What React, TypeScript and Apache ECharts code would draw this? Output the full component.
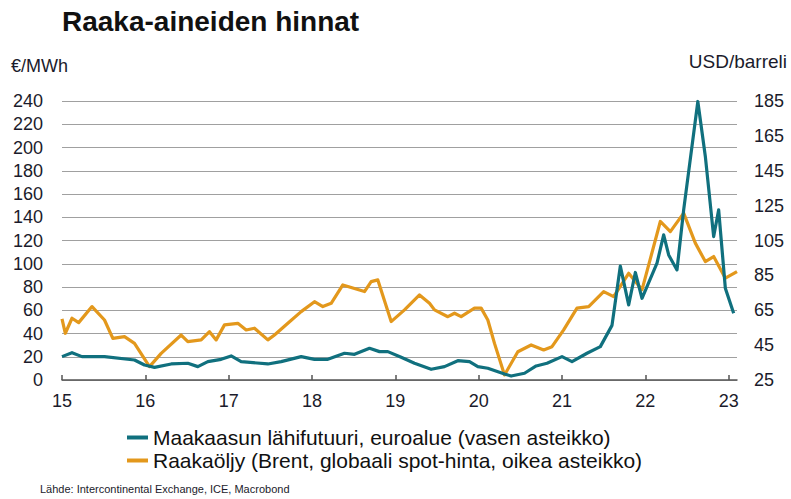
import React, { useEffect, useRef } from "react";
import * as echarts from "echarts";

const gasDates = [2015.0, 2015.12, 2015.24, 2015.51, 2015.87, 2015.99, 2016.11, 2016.31, 2016.51, 2016.63, 2016.75, 2016.91, 2017.03, 2017.15, 2017.47, 2017.63, 2017.87, 2018.03, 2018.19, 2018.39, 2018.51, 2018.69, 2018.81, 2018.91, 2019.07, 2019.23, 2019.43, 2019.59, 2019.75, 2019.89, 2019.99, 2020.11, 2020.31, 2020.39, 2020.55, 2020.69, 2020.82, 2021.0, 2021.12, 2021.3, 2021.46, 2021.6, 2021.7, 2021.8, 2021.88, 2021.96, 2022.14, 2022.22, 2022.28, 2022.38, 2022.46, 2022.63, 2022.72, 2022.82, 2022.88, 2022.96, 2023.06];
const gasValues = [20.1, 23.5, 20.1, 20.1, 17.2, 12.9, 10.9, 13.8, 14.4, 11.5, 15.8, 17.8, 20.7, 15.8, 13.8, 15.8, 20.1, 17.8, 17.8, 23, 22.1, 27.3, 24.4, 24.4, 19.5, 14.4, 9.2, 11.5, 16.6, 15.8, 11.5, 10.1, 5.2, 3.4, 5.8, 12.1, 14.4, 20.1, 15.8, 23, 28.7, 47, 98, 64.6, 92.5, 70.3, 100.5, 124.8, 107.6, 94.7, 146.4, 239.6, 192.3, 123.4, 146.4, 79, 57.4];

const oilDates = [2015.0, 2015.04, 2015.12, 2015.2, 2015.36, 2015.51, 2015.61, 2015.75, 2015.87, 2016.05, 2016.19, 2016.43, 2016.51, 2016.67, 2016.77, 2016.85, 2016.95, 2017.11, 2017.21, 2017.31, 2017.47, 2017.55, 2017.71, 2017.87, 2018.03, 2018.13, 2018.23, 2018.37, 2018.63, 2018.71, 2018.79, 2018.95, 2019.11, 2019.29, 2019.41, 2019.47, 2019.63, 2019.71, 2019.79, 2019.95, 2020.03, 2020.11, 2020.19, 2020.31, 2020.47, 2020.63, 2020.78, 2020.88, 2021.02, 2021.18, 2021.32, 2021.5, 2021.62, 2021.8, 2021.96, 2022.18, 2022.3, 2022.46, 2022.6, 2022.72, 2022.82, 2022.96, 2023.1];
const oilValues = [60, 51.8, 60.4, 57.9, 67.1, 59.4, 48.9, 49.9, 46, 32.7, 40.3, 50.8, 47, 48, 52.7, 48, 56.6, 57.5, 53.7, 54.7, 48, 50.8, 57.5, 64.2, 69.9, 67.1, 69, 79.5, 75.7, 81.4, 82.4, 58.5, 65.2, 73.8, 69, 65.2, 61.3, 63.3, 61.3, 66.2, 66.2, 59.4, 46, 27.9, 41.2, 45.1, 42.2, 44.1, 53.7, 66.2, 67.1, 75.7, 72.8, 86.2, 76.7, 115.9, 110.1, 120.7, 103.5, 92.9, 95.8, 83.4, 87.2];

const yearTicks = [2015, 2016, 2017, 2018, 2019, 2020, 2021, 2022, 2023];
const rightTicks = [25, 45, 65, 85, 105, 125, 145, 165, 185];

const gasName = "Maakaasun lähifutuuri, euroalue (vasen asteikko)";
const oilName = "Raakaöljy (Brent, globaali spot-hinta, oikea asteikko)";

const TEAL = "#10707e";
const ORANGE = "#e3981c";
const TXT = "#1b1b2b";
const FONT = "Liberation Sans, Arial, sans-serif";

export default function App() {
  const ref = useRef<HTMLDivElement>(null);
  useEffect(() => {
    if (!ref.current) return;
    const chart = echarts.init(ref.current, undefined, { renderer: "svg" });
    const gasData = gasDates.map((d, i) => [d, gasValues[i]]);
    const oilData = oilDates.map((d, i) => [d, oilValues[i]]);
    chart.setOption({
      animation: false,
      textStyle: { fontFamily: FONT },
      grid: { left: 62, right: 54, top: 101, bottom: 119, containLabel: false },
      graphic: [
        { type: "text", left: 62, top: 7, style: { text: "Raaka-aineiden hinnat", font: "bold 28px " + FONT, fill: "#111" } },
        { type: "text", left: 11, top: 57, style: { text: "€/MWh", font: "18px " + FONT, fill: TXT } },
        { type: "text", right: 4, top: 52, style: { text: "USD/barreli", font: "19px " + FONT, fill: TXT } },
        { type: "text", left: 40, top: 483, style: { text: "Lähde: Intercontinental Exchange, ICE, Macrobond", font: "11px " + FONT, fill: TXT } },
      ],
      legend: {
        orient: "vertical",
        left: 127,
        top: 427,
        padding: 0,
        itemWidth: 21,
        itemHeight: 4,
        itemGap: 2,
        icon: "rect",
        textStyle: { fontSize: 21, color: "#111", fontFamily: FONT },
        data: [gasName, oilName],
      },
      xAxis: {
        type: "value",
        min: 2015,
        max: 2023.1,
        splitLine: { show: false },
        axisLine: { lineStyle: { color: "#555", width: 1.5 } },
        axisTick: { show: true, inside: true, length: 5, lineStyle: { color: "#555", width: 1.5 }, customValues: yearTicks },
        axisLabel: {
          customValues: yearTicks,
          formatter: (v: number) => String(Math.round(v) % 100),
          fontSize: 18,
          color: TXT,
          margin: 12,
        },
      },
      yAxis: [
        {
          type: "value",
          min: 0,
          max: 240,
          interval: 20,
          axisLine: { show: false },
          axisTick: { show: false },
          splitLine: { lineStyle: { color: "#a0a0a0", width: 1.2 } },
          axisLabel: { fontSize: 18, color: TXT, margin: 19 },
        },
        {
          type: "value",
          min: 25,
          max: 185,
          position: "right",
          axisLine: { show: false },
          axisTick: { show: false },
          splitLine: { show: false },
          axisLabel: { fontSize: 18, color: TXT, margin: 17, customValues: rightTicks },
        },
      ],
      series: [
        {
          name: gasName,
          type: "line",
          yAxisIndex: 0,
          data: gasData,
          showSymbol: false,
          z: 3,
          color: TEAL,
          lineStyle: { width: 3.2, color: TEAL, join: "round" },
        },
        {
          name: oilName,
          type: "line",
          yAxisIndex: 1,
          data: oilData,
          showSymbol: false,
          z: 2,
          color: ORANGE,
          lineStyle: { width: 3.2, color: ORANGE, join: "round" },
        },
      ],
    });
    return () => chart.dispose();
  }, []);
  return <div ref={ref} style={{ width: 791, height: 499, position: "absolute", left: 0, top: 0 }} />;
}
